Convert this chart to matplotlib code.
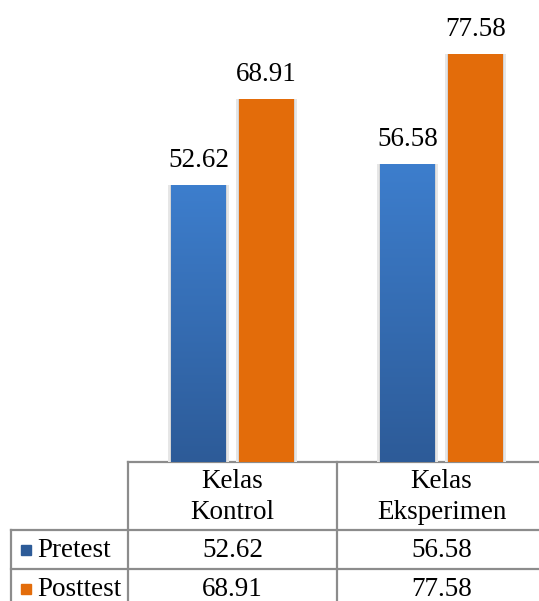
import numpy as np
import matplotlib.pyplot as plt
from matplotlib.transforms import blended_transform_factory

plt.rcParams['font.family'] = ['Liberation Serif', 'DejaVu Serif']

# данные
categories = ["Kelas\nKontrol", "Kelas\nEksperimen"]
series_names = ["Pretest", "Posttest"]
pretest = [52.62, 56.58]
posttest = [68.91, 77.58]

blue_top = np.array([61, 126, 205]) / 255
blue_bottom = np.array([45, 91, 152]) / 255
orange = "#E36C0A"
grid_col = "#8c8c8c"
fs = 19.5

W, H = 539, 601
fig = plt.figure(figsize=(W / 100, H / 100), dpi=100)

# основная область: x от 128 до 546 px, y от 462 px (низ) до верха
left_px, right_px, base_px = 128, 546, 462
ax = fig.add_axes([left_px / W, (H - base_px) / H, (right_px - left_px) / W, base_px / H])
ymax = base_px / 5.264
ax.set_xlim(-0.5, 1.5)
ax.set_ylim(0, ymax)
ax.axis("off")

x = np.arange(len(categories))
bw = 0.26
off = 0.163

# мягкая тень
for dx, vals in [(-off, pretest), (off, posttest)]:
    ax.bar(x + dx, vals, width=bw + 0.03, color="#e6e6e6", zorder=1)
    ax.bar(x + dx, vals, width=bw + 0.015, color="#d4d4d4", zorder=1)

# синие столбцы с градиентом
grad = np.linspace(0, 1, 256)[:, None]
cols = blue_bottom[None, :] * (1 - grad) + blue_top[None, :] * grad
img = np.repeat(cols[:, None, :], 2, axis=1)
for xi, v in zip(x - off, pretest):
    ax.imshow(img, extent=(xi - bw / 2, xi + bw / 2, 0, v), origin="lower",
              aspect="auto", zorder=2, interpolation="bilinear")
ax.bar(x + off, posttest, width=bw, color=orange, zorder=2)
ax.set_xlim(-0.5, 1.5)
ax.set_ylim(0, ymax)

for xi, v in zip(x - off, pretest):
    ax.annotate(f"{v:.2f}", (xi, v), xytext=(0, 13), textcoords="offset points",
                ha="center", va="baseline", fontsize=fs)
for xi, v in zip(x + off, posttest):
    ax.annotate(f"{v:.2f}", (xi, v), xytext=(0, 13), textcoords="offset points",
                ha="center", va="baseline", fontsize=fs)

# таблица данных
ov = fig.add_axes([0, 0, 1, 1], zorder=-1)
ov.set_xlim(0, W)
ov.set_ylim(H, 0)
ov.axis("off")
tr = blended_transform_factory(ax.transData, ov.transData)

row_y = [462, 530, 569, 608]
lw = 1.6
ov.plot([-0.5, 1.6], [row_y[0], row_y[0]], color=grid_col, lw=lw, transform=tr, clip_on=False)
for yy in row_y[1:]:
    ov.plot([11, W + 10], [yy, yy], color=grid_col, lw=lw)
for c in [-0.5, 0.5, 1.5]:
    ov.plot([c, c], [row_y[0], row_y[-1]], color=grid_col, lw=lw, transform=tr)
ov.plot([11, 11], [row_y[1], row_y[-1]], color=grid_col, lw=lw)

for xi, cat in zip(x, categories):
    ov.text(xi, (row_y[0] + row_y[1]) / 2 + 1, cat, transform=tr, ha="center",
            va="center", fontsize=fs, linespacing=1.3)

for r, (name, vals, col) in enumerate([(series_names[0], pretest, blue_bottom),
                                       (series_names[1], posttest, orange)]):
    yc = (row_y[r + 1] + row_y[r + 2]) / 2
    ov.add_patch(plt.Rectangle((21, yc - 5), 10, 10, color=col))
    ov.text(37, yc + 1, name, ha="left", va="center", fontsize=fs)
    for xi, v in zip(x, vals):
        ov.text(xi, yc + 1, f"{v:.2f}", transform=tr, ha="center", va="center", fontsize=fs)

fig.savefig("out.png", dpi=100)
